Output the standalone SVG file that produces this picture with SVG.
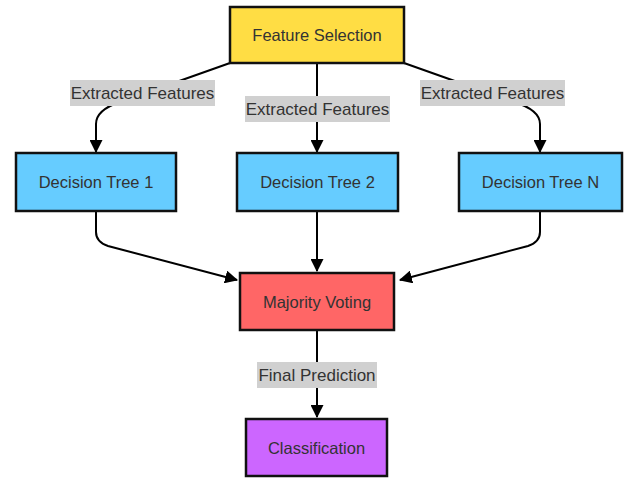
<svg xmlns="http://www.w3.org/2000/svg" width="626" height="479" viewBox="0 0 626 479">
<defs>
<marker id="arrow" viewBox="0 0 12 12" refX="11" refY="6" markerWidth="13" markerHeight="13" markerUnits="userSpaceOnUse" orient="auto">
<path d="M0,0 L12,6 L0,12 z" fill="#000"/>
</marker>
<style>
.node rect{stroke:#111;stroke-width:2.5}
.node text{font-family:"Liberation Sans",Arial,sans-serif;font-size:16.5px;fill:#333;text-anchor:middle;dominant-baseline:central}
.edge{fill:none;stroke:#000;stroke-width:2}
.lbl rect{fill:#d0d0d0}
.lbl text{font-family:"Liberation Sans",Arial,sans-serif;font-size:17px;fill:#333;text-anchor:middle;dominant-baseline:central}
</style>
</defs>
<rect width="626" height="479" fill="#fff"/>
<g id="connectors">
<path class="edge" d="M230,63 L120,102 Q96,110 96,124 L96,152" marker-end="url(#arrow)"/>
<path class="edge" d="M317,63 L317,152" marker-end="url(#arrow)"/>
<path class="edge" d="M404,63 L514,102 Q540,110 540,124 L540,152" marker-end="url(#arrow)"/>
<path class="edge" d="M96,211 L96,232 Q96,242 108,246 L237,280" marker-end="url(#arrow)"/>
<path class="edge" d="M317,211 L317,271" marker-end="url(#arrow)"/>
<path class="edge" d="M540,211 L540,232 Q540,242 528,246 L400,280" marker-end="url(#arrow)"/>
<path class="edge" d="M317,330 L317,417" marker-end="url(#arrow)"/>
</g>
<g id="labels">
<g class="lbl" id="label-ef1"><rect x="70" y="80" width="145" height="26"/><text x="142.5" y="93">Extracted Features</text></g>
<g class="lbl" id="label-ef2"><rect x="245" y="96" width="145" height="26"/><text x="317.5" y="109">Extracted Features</text></g>
<g class="lbl" id="label-efn"><rect x="420" y="80" width="145" height="26"/><text x="492.5" y="93">Extracted Features</text></g>
<g class="lbl" id="label-fp"><rect x="257" y="362" width="120" height="26"/><text x="317" y="375">Final Prediction</text></g>
</g>
<g class="node" id="feature-selection"><rect x="230" y="7" width="174" height="56" fill="#FFDD44"/><text x="317" y="35">Feature Selection</text></g>
<g class="node" id="dt1"><rect x="16" y="153" width="160" height="58" fill="#66CCFF"/><text x="96" y="182">Decision Tree 1</text></g>
<g class="node" id="dt2"><rect x="237" y="153" width="161" height="58" fill="#66CCFF"/><text x="317.5" y="182">Decision Tree 2</text></g>
<g class="node" id="dtn"><rect x="459" y="153" width="163" height="58" fill="#66CCFF"/><text x="540.5" y="182">Decision Tree N</text></g>
<g class="node" id="majority-voting"><rect x="240" y="273" width="154" height="57" fill="#FF6666"/><text x="317" y="301.5">Majority Voting</text></g>
<g class="node" id="classification"><rect x="246" y="419" width="141" height="57" fill="#CC66FF"/><text x="316.5" y="447.5">Classification</text></g>
</svg>
